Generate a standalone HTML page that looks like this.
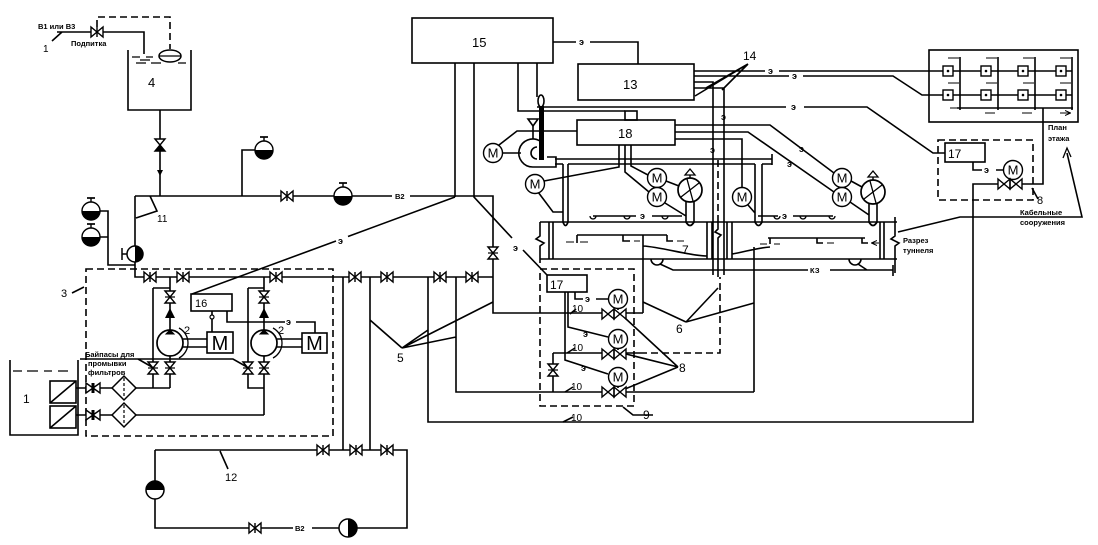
<!DOCTYPE html>
<html><head><meta charset="utf-8">
<style>
html,body{margin:0;padding:0;background:#fff;}
svg{display:block;}
text{font-family:"Liberation Sans",sans-serif;fill:#000;}
.s{font-size:7.5px;font-weight:bold;}
.n{font-size:12px;}
.e{font-size:9px;font-weight:bold;}
</style></head><body>
<svg width="1098" height="545" viewBox="0 0 1098 545" xmlns="http://www.w3.org/2000/svg">
<defs>
<marker id="ah" markerWidth="6" markerHeight="6" refX="5" refY="3" orient="auto"><path d="M0,0.5 L5.5,3 L0,5.5" fill="none" stroke="#000" stroke-width="1"/></marker>
<g id="vh"><path d="M-6,-5 L6,5 L6,-5 L-6,5 Z" fill="#fff" stroke="#000" stroke-width="1.4"/><line x1="0" y1="-5" x2="0" y2="5" stroke="#000" stroke-width="1.4"/></g>
<g id="vg"><path d="M-7,-5 L7,5 L7,-5 L-7,5 Z" fill="#fff" stroke="#000" stroke-width="1.4"/><rect x="-1.5" y="-5" width="3" height="10" fill="#000"/></g>
<g id="vv"><path d="M-5,-6 L5,6 L-5,6 L5,-6 Z" fill="#fff" stroke="#000" stroke-width="1.4"/><line x1="-5" y1="0" x2="5" y2="0" stroke="#000" stroke-width="1.2"/></g>
<g id="vvf"><path d="M-5,-6 L5,6 L-5,6 L5,-6 Z" fill="#fff" stroke="#000" stroke-width="1.4"/><path d="M0,0 L5,6 L-5,6 Z" fill="#000"/></g>
<g id="vc"><path d="M-12,-5 L0,5 L0,-5 L-12,5 Z M0,-5 L12,5 L12,-5 L0,5 Z" fill="#fff" stroke="#000" stroke-width="1.4"/><line x1="0" y1="-5" x2="0" y2="5" stroke="#000" stroke-width="1.4"/></g>
<g id="mot"><circle r="9.5" fill="#fff" stroke="#000" stroke-width="1.4"/><text y="4.6" font-size="13" text-anchor="middle">M</text></g>
<g id="ves"><circle r="9" fill="#fff" stroke="#000" stroke-width="1.4"/><path d="M-9,0 A9,9 0 0,0 9,0 Z" fill="#000"/><line x1="0" y1="-9" x2="0" y2="-13" stroke="#000" stroke-width="1.4"/><line x1="-4" y1="-13" x2="4" y2="-13" stroke="#000" stroke-width="1.7"/></g>
<g id="rot"><line x1="0" y1="-12" x2="0" y2="-15" stroke="#000" stroke-width="1.4"/><path d="M-5,-15 L5,-15 L0,-21 Z" fill="#fff" stroke="#000" stroke-width="1.3"/><circle r="12" fill="#fff" stroke="#000" stroke-width="1.7"/><line x1="-9" y1="7" x2="9" y2="-7" stroke="#000" stroke-width="1.3"/><line x1="-3" y1="-11" x2="3" y2="11" stroke="#000" stroke-width="1.3"/></g>
<g id="cell"><rect x="-5" y="-5" width="10" height="10" fill="#fff" stroke="#000" stroke-width="1.4"/><circle r="1.3" fill="#000"/></g>
</defs>

<g fill="none" stroke="#000" stroke-width="1.6">
<!-- top left / tank 4 -->
<path d="M52,41 L62,32 M57,32 L91,32 M103,32 L144,32 L144,54
M128,50 L128,110 L191,110 L191,50
M160,110 L160,196
M135,196 L281,196 M293,196 L334,196 M352,196 L392,196 M410,196 L493,196 L493,313 L603,313
M242,196 L242,150 L255,150
M150,196 L157,211 L136,218
M100,211 L108,211 L108,265 L135,265 M100,237 L108,237
M135,196 L135,277 L493,277"/>
<path d="M132,57 L140,57 M146,57 L153,57 M136,63 L146,63 M151,63 L161,63 M178,63 L186,63 M140,60 L150,60" stroke-width="1.3"/>
<!-- pump group -->
<path d="M72,293 L84,287
M170,277 L170,330 M153,288 L170,288 M153,288 L153,388 L170,388 M170,356 L170,388
M264,277 L264,330 M248,288 L264,288 M248,288 L248,388 L264,388 M264,356 L264,415
M183,339 L207,339 M183,347 L207,347 M277,339 L302,339 M277,347 L302,347
M212,311 L212,332 M227,311 L227,322 L285,322 M296,322 L315,322 L315,333
M192,294 L336,241 M348,236.5 L455,197
M10,360 L10,435 L78,435 L78,360
M50,403 L76,381 M50,428 L76,406
M76,388 L86,388 M100,388 L112,388 M136,388 L153,388
M76,415 L86,415 M100,415 L112,415 M136,415 L264,415
M80,359 L233,359 L247,367 M138,359 L152,367"/>
<path d="M13,371 L22,371 M27,371 L38,371 M44,371 L52,371 M58,371 L68,371" stroke-width="1.3"/>
<rect x="50" y="381" width="26" height="22"/><rect x="50" y="406" width="26" height="22"/>
<rect x="207" y="332" width="26" height="21"/><rect x="302" y="333" width="25" height="20"/>
<rect x="191" y="294" width="41" height="17"/>
<!-- distribution -->
<path d="M343,277 L343,450 M370,277 L370,450
M428,277 L428,422 L973,422 L973,184 L998,184
M456,277 L456,392 L603,392
M402,348 L370,320 M402,348 L428,330 M402,348 L456,337 M402,348 L493,302
M155,450 L407,450 L407,528 L357,528 M339,528 L312,528 M293,528 L155,528 L155,499 M155,481 L155,450
M220,451 L228,469"/>
<!-- 15 / 13 / 18 -->
<rect x="412" y="18" width="141" height="45"/>
<rect x="578" y="64" width="116" height="36"/>
<rect x="625" y="111" width="12" height="9"/>
<rect x="577" y="120" width="98" height="25"/>
<path d="M553,42 L576,42 M590,42 L638,42 L638,64
M455,63 L455,197 M474,63 L474,197 L512,238 M523,250 L547,275
M518,63 L518,111 L625,111 M537,63 L537,97
M537,107 L786,107 M804,107 L867,107 L933,153 L945,153
M694,71 L765,71 M779,71 L1072,71
M694,76 L789,76 M803,76 L893,76 L922,95 L1072,95
M694,82 L713,82 L713,275 M694,88 L724,88 L724,275
M748,64 L695,96 M748,64 L706,88 M748,64 L722,90
M675,125 L770,125 L834,173 M675,132 L748,132 L834,192 M675,139 L742,139 L742,187
M577,131 L517,131 L499,145
M619,145 L619,167 L544,181 M625,145 L625,172 L649,192 M631,145 L631,166 L648,175
M503,153 L521,153 M533,126 L533,139
M555,159 L772,159 M772,154 L772,165
M555,164 L563,164 M568,164 L755,164 M762,164 L772,164
M563,164 L563,222 M568,164 L568,222 M755,164 L755,222 M762,164 L762,222
M538,192 L553,212 L563,212
M666,181 L679,186 M665,203 L686,216 M851,181 L862,187 M850,202 L869,215 M748,205 L755,213
M686,200 L686,222 M694,200 L694,222 M869,202 L869,222 M877,202 L877,222
M593,216 L636,216 M652,216 L682,216 M758,216 L778,216 M793,216 L833,216"/>
<path d="M540,141 A14,14 0 1,0 533,167 L556,167 L556,157 L547,157"/>
<path d="M537,147 A6,6 0 1,0 537,159"/>
<path d="M528,119 L538,119 L533,126 Z"/>
<ellipse cx="541" cy="101" rx="3" ry="6"/>
<!-- heads -->
<path d="M590,216 A3,3 0 0,0 596,216 M624,216 A3,3 0 0,0 630,216 M662,216 A3,3 0 0,0 668,216 M774,216 A3,3 0 0,0 780,216 M800,216 A3,3 0 0,0 806,216 M829,216 A3,3 0 0,0 835,216" stroke-width="1.3"/>
<path d="M563,222 Q565.5,229 568,222 M686,222 Q690,229 694,222 M755,222 Q758.5,229 762,222 M869,222 Q873,229 877,222" stroke-width="1.8"/>
<!-- tunnel -->
<path d="M540,222 L897,222 M540,259 L897,259
M540,222 L540,236 L536,239 L544,243 L540,246 L540,263
M549,222 L549,259 M553,222 L553,259 M880,222 L880,259 M884,222 L884,259
M895,217 L895,236 L891,239 L899,243 L895,246 L895,273
M707,222 L707,259 M712,222 L712,259 M727,222 L727,259 M732,222 L732,259
M718,222 L718,229 L715,232 L721,235 L718,238 L718,277
M577,235 L667,235 M577,235 L577,243 M623,235 L623,241 L630,241 M667,235 L667,241 L673,241
M768,238 L865,238 M770,238 L770,244 M817,238 L817,243 L823,243 M862,238 L862,243 L868,243
M643,246 C662,247 690,256 707,256 M732,254 C745,252 755,248 770,247
M643,235 L643,313 M625,313 L643,313 M754,247 L754,392 M625,392 L754,392 M625,353 L640,353
M651,259 A6,6 0 0,0 663,259 M849,259 A6,6 0 0,0 861,259
M660,264 L673,270 L808,270 M830,270 L893,270 M858,264 L867,270 M893,265 L893,276"/>
<path d="M566,242 L574,242 M588,242 L580,242 M640,241 L634,241 M684,241 L677,241 M760,244 L767,244 M780,244 L774,244 M834,243 L827,243 M879,243 L872,243" stroke-width="1" marker-end="url(#ah)"/>
<!-- 17 center -->
<rect x="547" y="275" width="40" height="17"/>
<path d="M553,353 L602,353 M553,353 L553,392
M575,292 L575,299 L583,299 M596,299 L608,299
M568,292 L568,327 L608,337 M565,292 L565,360 L608,374
M618,308 L618,310 M618,348 L618,350 M618,386 L618,388
M570,314 L576,309 M567,353 L575,348 M565,392 L573,387 M563,422 L573,417
M623,407 L633,415 L653,415
M686,322 L643,302 M686,322 L718,288 M686,322 L754,303
M678,367 L625,318 M678,367 L626,354 M678,367 L625,389"/>
<!-- right -->
<rect x="929" y="50" width="149" height="72"/>
<rect x="945" y="143" width="40" height="19"/>
<path d="M960,57 L960,110 M998,57 L998,110 M1035,57 L1035,110 M1072,57 L1072,110 M957,108 L1073,108
M973,162 L973,170 L982,170 M996,170 L1003,170
M1022,184 L1043,184 L1043,108 M1032,188 L1038,199
M1067,153 L1082,217 L960,217 L898,232"/>
<path d="M1063,158 L1067,148 L1071,157" stroke-width="1.3"/>
<path d="M948,58 L959,58 M986,58 L997,58 M1023,58 L1034,58 M1060,58 L1071,58 M948,83 L959,83 M986,83 L997,83 M1023,83 L1034,83 M1060,83 L1071,83 M950,108 L958,108 M985,113 L995,113 M1022,113 L1032,113 M1060,113 L1070,113" stroke-width="1" marker-end="url(#ah)"/>
</g>
<!-- dashed -->
<g fill="none" stroke="#000" stroke-width="1.6" stroke-dasharray="7,4">
<path d="M97,27 L97,17 L170,17 L170,49"/>
<rect x="86" y="269" width="247" height="167"/>
<rect x="540" y="269" width="94" height="137"/>
<rect x="938" y="140" width="95" height="60"/>
<path d="M640,353 L720,353 L720,277 M718,160 L718,222"/>
</g>

<!-- symbols -->
<use href="#vh" x="97" y="32"/>
<ellipse cx="170" cy="56" rx="11" ry="6" fill="#fff" stroke="#000" stroke-width="1.5"/>
<line x1="159" y1="56" x2="181" y2="56" stroke="#000" stroke-width="1.3"/>
<use href="#vvf" x="160" y="145"/>
<path d="M157,170 L163,170 L160,176 Z" fill="#000"/>
<use href="#vh" x="287" y="196"/>
<use href="#ves" x="343" y="196"/>
<use href="#ves" x="264" y="150"/>
<use href="#ves" x="91" y="211"/>
<use href="#ves" x="91" y="237"/>
<circle cx="135" cy="254" r="8" fill="#fff" stroke="#000" stroke-width="1.5"/>
<path d="M135,246 A8,8 0 0,1 135,262 Z" fill="#000"/>
<path d="M122,248 L122,260 M122,254 L127,254" stroke="#000" stroke-width="1.5"/>

<use href="#vh" x="150" y="277"/><use href="#vh" x="183" y="277"/><use href="#vh" x="276" y="277"/>
<use href="#vh" x="355" y="277"/><use href="#vh" x="387" y="277"/><use href="#vh" x="440" y="277"/><use href="#vh" x="472" y="277"/>
<use href="#vv" x="493" y="253"/>
<use href="#vv" x="170" y="297"/><path d="M165,318 L175,318 L170,308 Z" fill="#000"/>
<use href="#vv" x="264" y="297"/><path d="M259,318 L269,318 L264,308 Z" fill="#000"/>
<circle cx="170" cy="343" r="13" fill="#fff" stroke="#000" stroke-width="1.7"/>
<circle cx="264" cy="343" r="13" fill="#fff" stroke="#000" stroke-width="1.7"/>
<path d="M166,334 L174,334 L170,330 Z M260,334 L268,334 L264,330 Z" fill="#000" stroke="#000"/>
<path d="M179,328 A17,17 0 0,1 179,358 M273,328 A17,17 0 0,1 273,358" fill="none" stroke="#000" stroke-width="1.3"/>
<circle cx="212" cy="317" r="2" fill="#fff" stroke="#000" stroke-width="1.2"/>
<use href="#vv" x="153" y="368"/><use href="#vv" x="170" y="368"/>
<use href="#vv" x="248" y="368"/><use href="#vv" x="264" y="368"/>
<use href="#vg" x="93" y="388"/><use href="#vg" x="93" y="415"/>
<path d="M112,388 L124,376 L136,388 L124,400 Z M112,415 L124,403 L136,415 L124,427 Z" fill="#fff" stroke="#000" stroke-width="1.5"/>
<path d="M124,378 L124,398 M124,405 L124,425" stroke="#000" stroke-width="1.2" stroke-dasharray="3,2"/>

<use href="#vh" x="323" y="450"/><use href="#vh" x="356" y="450"/><use href="#vh" x="387" y="450"/>
<use href="#vh" x="255" y="528"/>
<circle cx="155" cy="490" r="9" fill="#fff" stroke="#000" stroke-width="1.5"/>
<path d="M146,490 A9,9 0 0,1 164,490 Z" fill="#000"/>
<circle cx="348" cy="528" r="9" fill="#fff" stroke="#000" stroke-width="1.5"/>
<path d="M348,519 A9,9 0 0,1 348,537 Z" fill="#000"/>

<rect x="539" y="106" width="5" height="54" fill="#000"/>
<use href="#mot" x="493" y="153"/>
<use href="#mot" x="535" y="184"/>
<use href="#mot" x="657" y="178"/>
<use href="#mot" x="657" y="197"/>
<use href="#mot" x="742" y="197"/>
<use href="#mot" x="842" y="178"/>
<use href="#mot" x="842" y="197"/>
<use href="#rot" x="690" y="190"/>
<use href="#rot" x="873" y="192"/>

<use href="#mot" x="618" y="299"/>
<use href="#mot" x="618" y="339"/>
<use href="#mot" x="618" y="377"/>
<use href="#vc" x="614" y="314"/>
<use href="#vc" x="614" y="354"/>
<use href="#vc" x="614" y="392"/>
<use href="#vv" x="553" y="370"/>

<use href="#cell" x="948" y="71"/><use href="#cell" x="986" y="71"/><use href="#cell" x="1023" y="71"/><use href="#cell" x="1061" y="71"/>
<use href="#cell" x="948" y="95"/><use href="#cell" x="986" y="95"/><use href="#cell" x="1023" y="95"/><use href="#cell" x="1061" y="95"/>
<use href="#mot" x="1013" y="170"/>
<use href="#vc" x="1010" y="184"/>

<!-- text -->
<text x="220" y="350" font-size="20" text-anchor="middle">M</text>
<text x="314.5" y="350" font-size="20" text-anchor="middle">M</text>
<text class="s" x="38" y="29">В1 или В3</text>
<text x="43" y="52" font-size="10">1</text>
<text class="s" x="71" y="46">Подпитка</text>
<text x="148" y="87" font-size="13">4</text>
<text x="157" y="222" font-size="10">11</text>
<text x="61" y="297" font-size="11">3</text>
<text x="23" y="403" font-size="12">1</text>
<text x="195" y="307" font-size="11">16</text>
<text x="184" y="334" font-size="11">2</text>
<text x="278" y="334" font-size="11">2</text>
<text class="e" x="286" y="325">э</text>
<text class="s" x="85" y="357" font-size="7">Байпасы для</text>
<text class="s" x="88" y="366" font-size="7">промывки</text>
<text class="s" x="88" y="375" font-size="7">фильтров</text>
<text class="e" x="338" y="244">э</text>
<text class="s" x="395" y="199" font-size="8">В2</text>
<text class="s" x="295" y="531" font-size="8">В2</text>
<text x="225" y="481" font-size="11">12</text>
<text x="397" y="362" font-size="12">5</text>
<text x="472" y="47" font-size="13">15</text>
<text class="e" x="579" y="45">э</text>
<text x="623" y="89" font-size="13">13</text>
<text x="618" y="138" font-size="13">18</text>
<text x="743" y="60" font-size="12">14</text>
<text class="e" x="768" y="74">э</text>
<text class="e" x="792" y="79">э</text>
<text class="e" x="791" y="110">э</text>
<text class="e" x="710" y="153">э</text>
<text class="e" x="721" y="120">э</text>
<text class="e" x="799" y="152">э</text>
<text class="e" x="787" y="167">э</text>
<text class="e" x="640" y="219">э</text>
<text class="e" x="782" y="219">э</text>
<text class="e" x="513" y="251">э</text>
<text x="682" y="254" font-size="12">7</text>
<text class="s" x="810" y="273" font-size="8">КЗ</text>
<text class="s" x="903" y="243">Разрез</text>
<text class="s" x="903" y="253">туннеля</text>
<text class="s" x="1020" y="215" font-size="7">Кабельные</text>
<text class="s" x="1020" y="225" font-size="7">сооружения</text>
<text class="s" x="1048" y="130">План</text>
<text class="s" x="1048" y="141">этажа</text>
<text x="948" y="158" font-size="12">17</text>
<text class="e" x="984" y="173">э</text>
<text x="1037" y="204" font-size="11">8</text>
<text x="550" y="289" font-size="12">17</text>
<text class="e" x="585" y="302">э</text>
<text class="e" x="583" y="337">э</text>
<text class="e" x="581" y="371">э</text>
<text x="572" y="312" font-size="10">10</text>
<text x="572" y="351" font-size="10">10</text>
<text x="571" y="390" font-size="10">10</text>
<text x="571" y="421" font-size="10">10</text>
<text x="676" y="333" font-size="12">6</text>
<text x="679" y="372" font-size="12">8</text>
<text x="643" y="419" font-size="12">9</text>
</svg>
</body></html>
